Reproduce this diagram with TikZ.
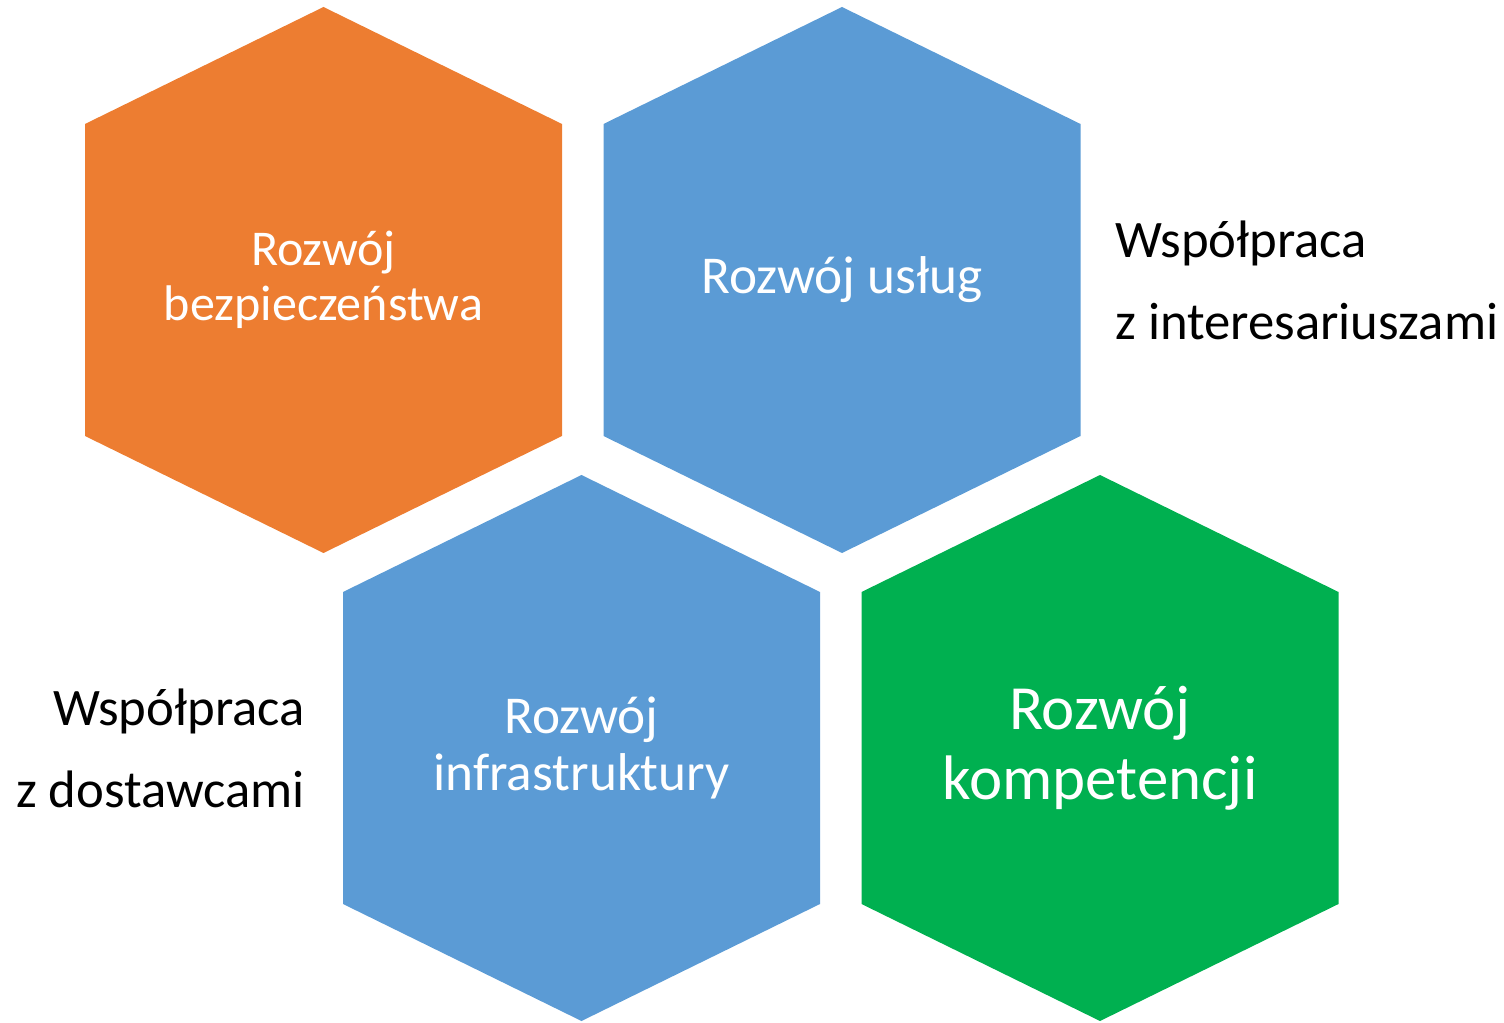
\documentclass[tikz,border=0pt]{standalone}
\usepackage{fontspec}
\setmainfont{Carlito}
\definecolor{hexOrange}{HTML}{ED7D31}
\definecolor{hexBlue}{HTML}{5B9BD5}
\definecolor{hexGreen}{HTML}{00B050}
\begin{document}
\begin{tikzpicture}[x=0.02cm,y=-0.02cm]
	% --- parámetros ---
	\newcommand{\HexW}{238.5}
	\newcommand{\HexS}{156}
	\newcommand{\HexT}{273}
	
	% estilos
	\tikzset{
		hexorange/.style = {fill=hexOrange},
		hexblue/.style   = {fill=hexBlue},
		hexgreen/.style  = {fill=hexGreen},
		hextext/.style   = {text=white, align=center, inner sep=0pt,
			font=\fontsize{28.5}{31.3}\selectfont},
		hexmid/.style    = {hextext, font=\fontsize{30.3}{32.4}\selectfont},
		hexbig/.style    = {hextext, font=\fontsize{35.8}{39.8}\selectfont},
		sidetext/.style  = {text=black, inner sep=0pt,
			font=\fontsize{30}{46.7}\selectfont},
	}
	
	% macro para un hexágono
	\newcommand{\DrawHex}[4]{% #1=nombre, #2=cx, #3=cy, #4=estilo
		\fill[#4] (#2,#3-\HexT) -- (#2+\HexW,#3-\HexS) -- (#2+\HexW,#3+\HexS)
			-- (#2,#3+\HexT) -- (#2-\HexW,#3+\HexS) -- (#2-\HexW,#3-\HexS) -- cycle;
		\coordinate (#1) at (#2,#3);
	}
	
	\useasboundingbox (0,0) rectangle (1504,1023);
	
	% hexágonos
	\DrawHex{hSec}{323.5}{280}{hexorange}
	\DrawHex{hSvc}{842}{280}{hexblue}
	\DrawHex{hInf}{581.5}{748}{hexblue}
	\DrawHex{hCom}{1100}{748}{hexgreen}
	
	% etiquetas
	\node[hextext] (tSec) at (hSec) {Rozwój\\bezpieczeństwa};
	\node[hexmid]  (tSvc) at (hSvc) {Rozwój usług};
	\node[hexmid]  (tInf) at (hInf) {Rozwój\\infrastruktury};
	\node[hexbig]  (tCom) at (hCom) {Rozwój\\kompetencji};
	
	% textos laterales
	\node[sidetext, anchor=west, align=left] (tStake) at (1115,280)
		{Współpraca\\z interesariuszami};
	\node[sidetext, anchor=east, align=right] (tSupp) at (305,748)
		{Współpraca\\z dostawcami};
	
\end{tikzpicture}
\end{document}
